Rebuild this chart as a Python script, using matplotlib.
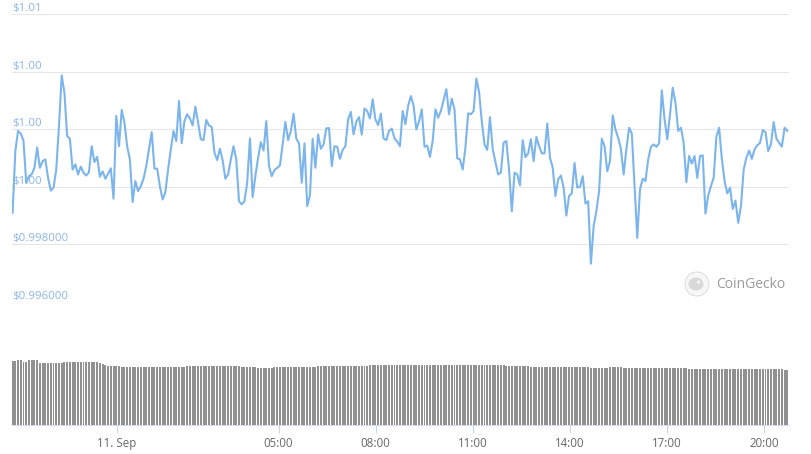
import numpy as np
import pandas as pd
from matplotlib import pyplot as plt
from matplotlib import transforms
from matplotlib.patches import Circle, Ellipse

# ---- data (24h, ~5 min steps) ----
price = [
    0.99910, 1.00124, 1.00194, 1.00185, 1.00159, 1.00014, 1.00037, 1.00043, 1.00066, 1.00136,
    1.00066, 1.00089, 1.00095, 1.00031, 0.99987, 0.99997, 1.00060, 1.00211, 1.00387, 1.00327,
    1.00176, 1.00167, 1.00060, 1.00078, 1.00043, 1.00070, 1.00049, 1.00039, 1.00051, 1.00141,
    1.00086, 1.00104, 1.00035, 1.00054, 1.00028, 1.00045, 1.00064, 0.99959, 1.00246, 1.00141,
    1.00267, 1.00223, 1.00141, 1.00095, 0.99947, 1.00020, 0.99985, 1.00002, 1.00028, 1.00072,
    1.00130, 1.00190, 1.00063, 1.00063, 1.00002, 0.99956, 0.99981, 1.00060, 1.00130, 1.00194,
    1.00159, 1.00298, 1.00151, 1.00228, 1.00252, 1.00237, 1.00213, 1.00278, 1.00223, 1.00165,
    1.00162, 1.00232, 1.00213, 1.00208, 1.00118, 1.00093, 1.00132, 1.00092, 1.00028, 1.00043,
    1.00095, 1.00141, 1.00095, 0.99950, 0.99939, 0.99950, 1.00014, 1.00168, 0.99964, 1.00037,
    1.00101, 1.00155, 1.00126, 1.00228, 1.00072,
    1.00037, 1.00058, 1.00066, 1.00074, 1.00147, 1.00225, 1.00162, 1.00194, 1.00254, 1.00167,
    1.00151, 1.00014, 1.00151, 0.99933, 0.99970, 1.00167, 1.00066, 1.00182, 1.00132, 1.00147,
    1.00203, 1.00204, 1.00072, 1.00141, 1.00139, 1.00097, 1.00128, 1.00141, 1.00234, 1.00260,
    1.00182, 1.00226, 1.00242, 1.00181, 1.00272, 1.00263, 1.00237, 1.00304, 1.00234, 1.00214,
    1.00254, 1.00168, 1.00162, 1.00194, 1.00202, 1.00168, 1.00157, 1.00141, 1.00263, 1.00217,
    1.00281, 1.00315, 1.00281, 1.00199, 1.00228, 1.00269, 1.00139, 1.00143, 1.00104, 1.00159,
    1.00269, 1.00240, 1.00263, 1.00301, 1.00339, 1.00252, 1.00306, 1.00269, 1.00099, 1.00095,
    1.00060, 1.00136, 1.00255, 1.00252, 1.00263, 1.00376, 1.00330, 1.00228, 1.00147, 1.00128,
    1.00242, 1.00132, 1.00086, 1.00043, 1.00049, 1.00153, 1.00159, 1.00060, 0.99915, 1.00049,
    1.00043, 1.00005, 1.00162, 1.00103, 1.00116, 1.00165, 1.00089, 1.00173, 1.00141,
    1.00116, 1.00116, 1.00220, 1.00101, 1.00066, 0.99968, 1.00026, 1.00039, 0.99997, 0.99900,
    0.99968, 0.99977, 1.00083, 0.99997, 1.00000, 1.00037, 0.99942, 0.99950, 0.99733, 0.99863,
    0.99915, 0.99985, 1.00167, 1.00141, 1.00054, 1.00089, 1.00248, 1.00199, 1.00170, 1.00132,
    1.00043, 1.00130, 1.00205, 1.00185, 1.00002, 0.99823, 0.99991, 1.00028, 1.00020, 1.00095,
    1.00139, 1.00147, 1.00139, 1.00151, 1.00335, 1.00234, 1.00165, 1.00252, 1.00344, 1.00292,
    1.00194, 1.00205, 1.00153, 1.00016, 1.00107, 1.00081, 1.00107, 1.00031, 1.00107, 1.00109,
    0.99907, 0.99970, 1.00002, 1.00031, 1.00174, 1.00205, 1.00097, 1.00020, 0.99977, 0.99997,
    0.99923, 0.99952, 0.99875, 0.99933, 1.00060, 1.00101, 1.00126, 1.00097, 1.00130, 1.00144,
    1.00153, 1.00197, 1.00190, 1.00124, 1.00147, 1.00225, 1.00167, 1.00153, 1.00139, 1.00205,
    1.00194,
]

# rolling 24h volume (billions USD, unlabeled on the chart)
volume = [
    44.8, 44.8, 45.7, 45.7, 44.3, 44.3, 45.5, 45.5, 45.5, 45.5,
    43.6, 43.6, 43.6, 43.6, 43.6, 43.6, 43.6, 43.6, 43.6, 44.1,
    44.1, 44.1, 44.1, 44.1, 44.1, 44.1, 44.1, 44.1, 44.1, 44.1,
    44.1, 44.1, 43.2, 42.6, 42.0, 41.5, 41.5, 41.5, 41.5, 41.5,
    40.8, 40.8, 40.8, 40.8, 40.8, 40.8, 40.8, 40.8, 40.8, 40.8,
    40.8, 40.8, 40.8, 40.8, 40.8, 40.8, 40.8, 40.8, 40.8, 40.8,
    40.8, 40.8, 40.8, 40.8, 41.1, 41.1, 41.1, 41.1, 41.1, 41.1,
    41.1, 41.1, 41.1, 41.1, 41.1, 41.1, 41.4, 41.6, 41.4, 41.4,
    41.6, 41.4, 41.4, 41.4, 40.6, 40.6, 40.6, 40.6, 40.6, 40.6,
    39.9, 39.9, 39.9, 39.9, 39.9, 39.9, 40.6, 40.6, 40.6, 40.6,
    40.6, 40.6, 40.6, 40.6, 40.6, 40.6, 40.6, 40.6, 40.6, 40.6,
    40.6, 40.6, 41.3, 41.3, 41.3, 41.3, 41.3, 41.3, 41.3, 41.3,
    41.3, 41.3, 41.3, 41.3, 41.3, 41.3, 41.3, 41.3, 41.3, 41.3,
    41.3, 41.8, 41.8, 41.8, 41.8, 41.8, 41.8, 41.8, 41.8, 41.8,
    41.8, 41.8, 42.0, 42.0, 42.0, 42.0, 42.0, 42.0, 42.0, 42.0,
    42.0, 42.0, 42.0, 42.0, 42.0, 42.0, 42.0, 42.0, 42.0, 42.0,
    42.0, 42.0, 42.0, 42.0, 42.0, 42.0, 42.0, 42.0, 42.0, 42.0,
    42.0, 42.0, 42.0, 42.0, 42.0, 42.0, 42.0, 42.0, 42.0, 42.0,
    42.0, 41.3, 41.3, 41.3, 41.3, 41.3, 41.3, 41.3, 41.3, 41.3,
    40.8, 40.8, 40.8, 40.8, 40.8, 40.8, 40.8, 40.8, 40.8, 40.8,
    40.8, 40.8, 40.8, 40.8, 40.8, 40.8, 40.8, 40.8, 40.8, 40.8,
    40.8, 40.8, 39.9, 39.9, 39.9, 39.9, 39.9, 39.9, 39.9, 40.6,
    40.6, 40.6, 40.6, 40.6, 39.9, 39.9, 39.9, 39.9, 39.9, 39.9,
    39.9, 39.9, 39.9, 39.9, 39.9, 39.9, 39.9, 39.9, 39.9, 39.9,
    39.9, 39.9, 39.9, 39.9, 39.9, 39.9, 39.9, 39.9, 39.4, 39.4,
    39.4, 39.4, 39.4, 39.2, 39.2, 39.2, 39.2, 39.2, 39.2, 39.2,
    39.2, 39.2, 39.2, 39.2, 39.2, 39.2, 39.2, 39.2, 39.2, 39.2,
    39.2, 39.2, 39.2, 39.2, 39.2, 39.2, 39.2, 39.2, 39.2, 39.2,
    39.2, 39.2, 39.2, 38.7, 38.7,
]

# time axis in hours from midnight 11 Sep
times = pd.date_range('2020-09-10 20:47', '2020-09-11 20:43', periods=len(price))
hours = np.asarray((times - pd.Timestamp('2020-09-11')) / pd.Timedelta(hours=1))

y_ticks = [0.996, 0.998, 1.000, 1.002, 1.004, 1.006]
y_labels = ['$0.996000', '$0.998000', '$1.00', '$1.00', '$1.00', '$1.01']
x_ticks = [0, 5, 8, 11, 14, 17, 20]
x_labels = ['11. Sep', '05:00', '08:00', '11:00', '14:00', '17:00', '20:00']

plt.rcParams['font.family'] = ['Open Sans', 'DejaVu Sans']

W, H = 811, 454
fig = plt.figure(figsize=(W / 100, H / 100), dpi=100)

### Price panel ###
ax = fig.add_axes([12 / W, 1 - 302 / H, 777 / W, 288 / H])
ax.plot(hours, price, color='#7cb5ec', lw=1.5, solid_joinstyle='round', zorder=3)
ax.set_xlim(-3.235, 20.769)
ax.set_ylim(0.996, 1.006)
ax.set_yticks(y_ticks)
ax.yaxis.grid(True, color='#e6e6e6', lw=0.75)
ax.set_xticks([])
ax.tick_params(axis='y', length=0, labelleft=False)
for s in ax.spines.values():
    s.set_visible(False)

# labels sit on top of the gridlines, inside the plot
lab_tr = transforms.offset_copy(ax.get_yaxis_transform(), fig=fig, x=0, y=3, units='dots')
for v, t in zip(y_ticks, y_labels):
    ax.text(0, v, t, transform=lab_tr, ha='left', va='baseline',
            fontsize=8.2, color='#8db4e8', zorder=1)

### Volume panel ###
axv = fig.add_axes([12 / W, 1 - 425 / H, 777 / W, 95 / H])
step = hours[1] - hours[0]
axv.bar(hours, volume, width=step * 0.72, color='#919191', linewidth=0)
axv.set_xlim(-3.235, 20.769)
axv.set_ylim(0, 66.5)
axv.set_yticks([])
axv.set_xticks(x_ticks)
axv.set_xticklabels(x_labels)
axv.tick_params(axis='x', length=6, width=0.8, color='#ccd6eb', pad=2.5,
                labelsize=8.3, labelcolor='#666666')
for k, s in axv.spines.items():
    s.set_visible(k == 'bottom')
axv.spines['bottom'].set_color('#ccd6eb')
axv.spines['bottom'].set_linewidth(0.6)

### CoinGecko watermark ###
ly = 1 - 284 / H
logo = fig.add_axes([(697 - 14) / W, 1 - (284 + 14) / H, 28 / W, 28 / H])
logo.set_xlim(-14, 14)
logo.set_ylim(-14, 14)
logo.set_aspect('equal')
logo.axis('off')
logo.add_patch(Circle((0, 0), 12, facecolor='#f7f7f7', edgecolor='#dedede', lw=0.8))
logo.add_patch(Ellipse((-1, 0), 15, 13, facecolor='#d9d9d9', edgecolor='none'))
logo.add_patch(Circle((1.5, 2), 1.6, facecolor='#f7f7f7', edgecolor='none'))
fig.text(716 / W, ly, 'CoinGecko', fontsize=10, color='#9a9a9a', ha='left', va='center')

fig.savefig('out.png', dpi=100)
